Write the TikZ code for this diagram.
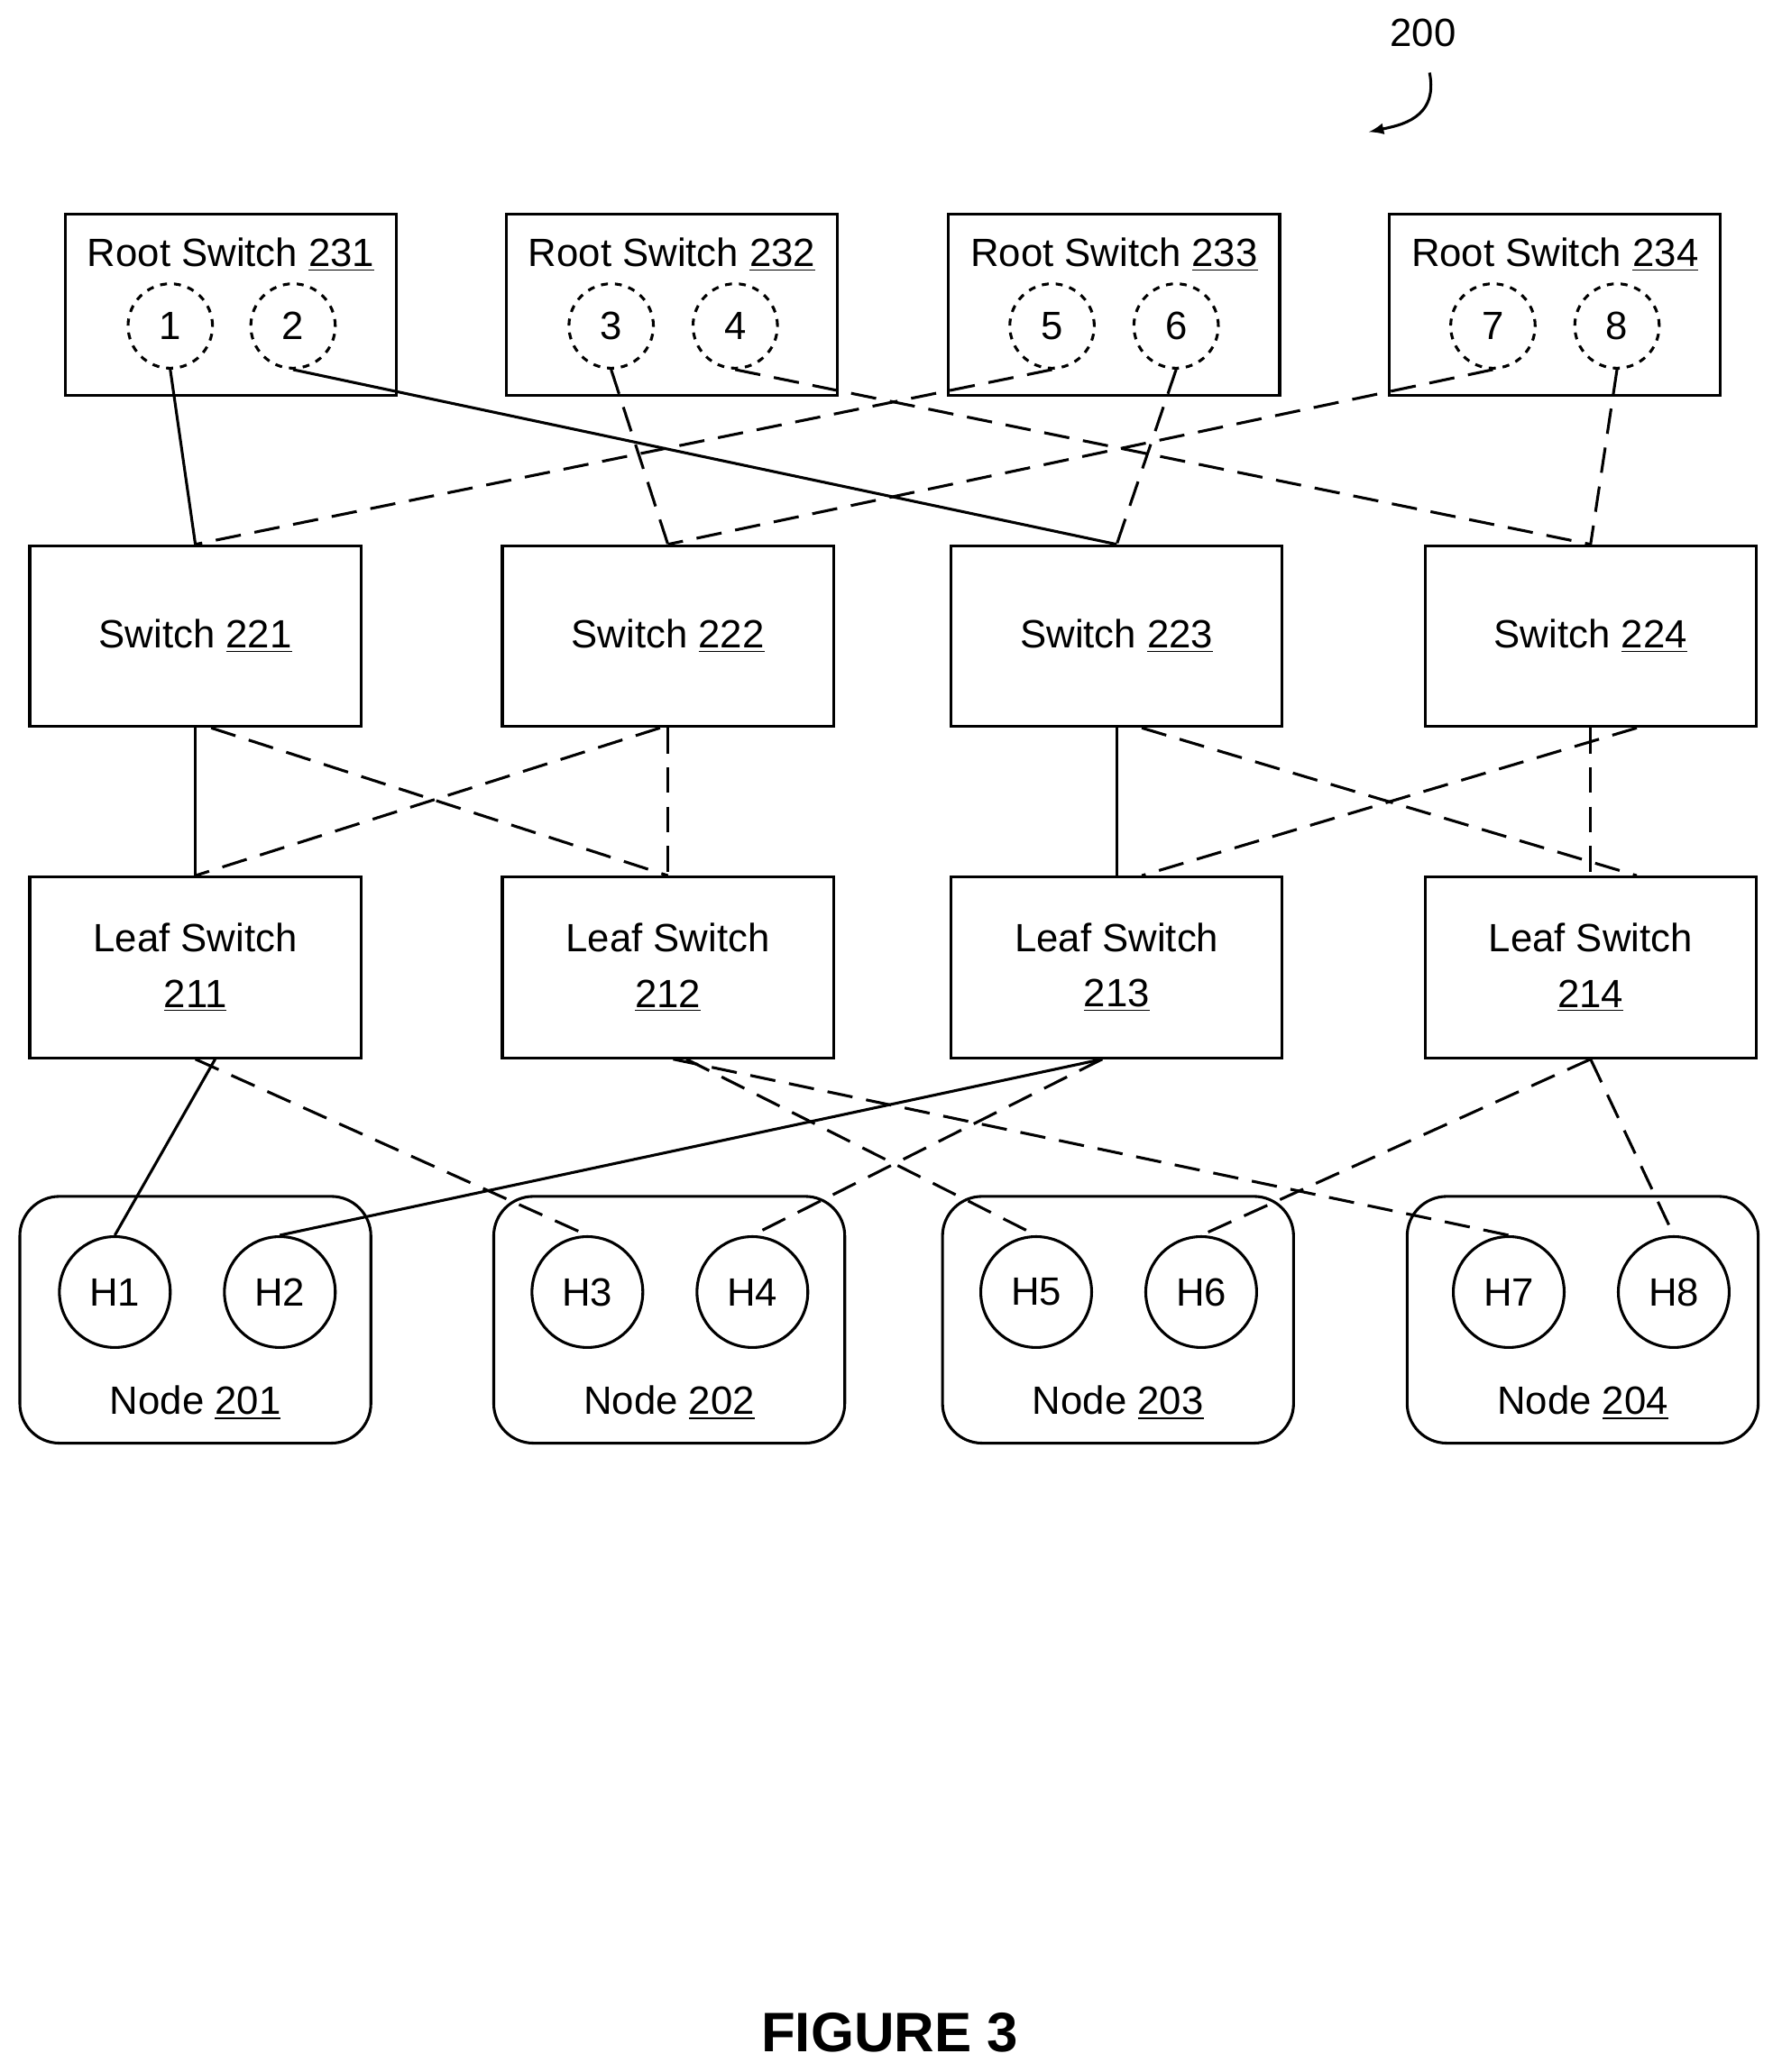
\documentclass[tikz,border=0pt]{standalone}
\usepackage{fontspec}
\setmainfont{Liberation Sans}
\usetikzlibrary{positioning}

\begin{document}
\begin{tikzpicture}[x=0.02cm,y=-0.02cm,line width=1.2pt,
    box/.style={draw, minimum width=5.02cm, minimum height=2.74cm, align=center, font=\fontsize{17}{24}\selectfont},
    port/.style={circle, draw, dashed, dash pattern=on 3pt off 3pt, minimum size=1.28cm, inner sep=0pt, font=\fontsize{17}{20}\selectfont},
    host/.style={circle, draw, minimum size=1.68cm, inner sep=0pt, font=\fontsize{17}{20}\selectfont},
    nodebox/.style={draw, rounded corners=0.6cm, minimum width=5.32cm, minimum height=3.74cm},
    lbl/.style={font=\fontsize{17}{20}\selectfont},
    dsh/.style={dash pattern=on 11pt off 6pt}]
  \useasboundingbox (0,0) rectangle (1350,1570);

  % root switches
  \foreach \i/\x/\a/\b in {231/175/1/2, 232/509/3/4, 233/844/5/6, 234/1178/7/8}{
    \node[box] (r\i) at (\x,231) {};
    \node[lbl] at (\x,193) {Root Switch \underline{\i}};
  }
  \node[port] (p1) at (129,247) {1};
  \node[port] (p2) at (222,247) {2};
  \node[port] (p3) at (463,247) {3};
  \node[port] (p4) at (557,247) {4};
  \node[port] (p5) at (797,247) {5};
  \node[port] (p6) at (891,247) {6};
  \node[port] (p7) at (1131,247) {7};
  \node[port] (p8) at (1225,247) {8};

  % switches
  \node[box] (s221) at (148,482) {Switch \underline{221}};
  \node[box] (s222) at (506,482) {Switch \underline{222}};
  \node[box] (s223) at (846,482) {Switch \underline{223}};
  \node[box] (s224) at (1205,482) {Switch \underline{224}};

  % leaf switches
  \node[box] (l211) at (148,733) {Leaf Switch\\\underline{211}};
  \node[box] (l212) at (506,733) {Leaf Switch\\\underline{212}};
  \node[box] (l213) at (846,733) {Leaf Switch\\\underline{213}};
  \node[box] (l214) at (1205,733) {Leaf Switch\\\underline{214}};

  % compute nodes
  \foreach \n/\x in {201/148, 202/507, 203/847, 204/1199}{
    \node[nodebox] (n\n) at (\x,1000) {};
    \node[lbl] at (\x,1063) {Node \underline{\n}};
  }
  \node[host] (h1) at (87,979) {H1};
  \node[host] (h2) at (212,979) {H2};
  \node[host] (h3) at (445,979) {H3};
  \node[host] (h4) at (570,979) {H4};
  \node[host] (h5) at (785,979) {H5};
  \node[host] (h6) at (910,979) {H6};
  \node[host] (h7) at (1143,979) {H7};
  \node[host] (h8) at (1268,979) {H8};

  % root links
  \draw (p1.south) -- (s221.north);
  \draw (p2.south) -- (s223.north);
  \draw[dsh] (p3.south) -- (s222.north);
  \draw[dsh] (p4.south) -- (s224.north);
  \draw[dsh] (p5.south) -- (s221.north);
  \draw[dsh] (p6.south) -- (s223.north);
  \draw[dsh] (p7.south) -- (s222.north);
  \draw[dsh] (p8.south) -- (s224.north);

  % switch links
  \draw (s221.south) -- (l211.north);
  \draw[dsh] ([xshift=0.24cm]s221.south) -- (l212.north);
  \draw[dsh] ([xshift=-0.12cm]s222.south) -- (l211.north);
  \draw[dsh] (s222.south) -- (l212.north);
  \draw (s223.south) -- (l213.north);
  \draw[dsh] ([xshift=0.38cm]s223.south) -- ([xshift=0.7cm]l214.north);
  \draw[dsh] ([xshift=0.7cm]s224.south) -- ([xshift=0.38cm]l213.north);
  \draw[dsh] (s224.south) -- (l214.north);

  % host links
  \draw ([xshift=0.3cm]l211.south) -- (h1.north);
  \draw[dsh] (l211.south) -- (h3.north);
  \draw[dsh] ([xshift=0.28cm]l212.south) -- (h5.north);
  \draw[dsh] ([xshift=0.08cm]l212.south) -- (h7.north);
  \draw ([xshift=-0.22cm]l213.south) -- (h2.north);
  \draw[dsh] ([xshift=-0.22cm]l213.south) -- (h4.north);
  \draw[dsh] (l214.south) -- (h6.north);
  \draw[dsh] (l214.south) -- (h8.north);

  % reference label
  \node[lbl] (ref) at (1078,25) {200};
  \draw[-latex] (1083,55) .. controls (1090,90) and (1060,95) .. (1037,100);

  \node[font=\fontsize{24}{28}\selectfont\bfseries] (fig) at (674,1540) {FIGURE 3};
\end{tikzpicture}
\end{document}
